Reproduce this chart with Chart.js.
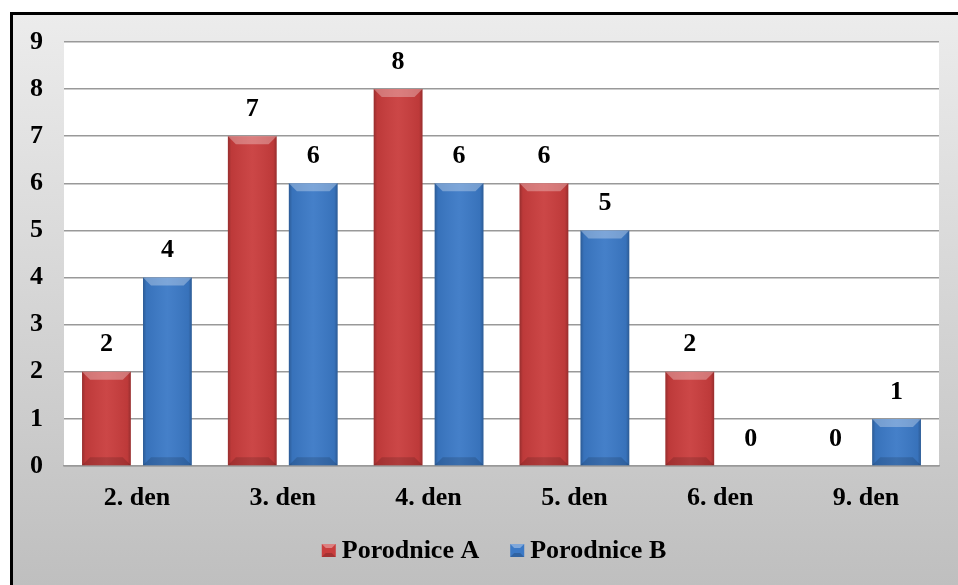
<!DOCTYPE html>
<html>
<head>
<meta charset="utf-8">
<script src="https://cdn.jsdelivr.net/npm/chart.js@4/dist/chart.umd.min.js"></script>
<style>
  html, body { margin: 0; padding: 0; background: #ffffff; }
  #wrap { width: 958px; height: 585px; }
</style>
</head>
<body>
<div id="wrap"><canvas id="c" width="958" height="585"></canvas></div>
<script>
// Days after birth and counts for the two maternity wards
const categories = ['2. den', '3. den', '4. den', '5. den', '6. den', '9. den'];
const seriesNames = ['Porodnice A', 'Porodnice B'];
const valuesA = [2, 7, 8, 6, 2, 0];
const valuesB = [4, 6, 6, 5, 0, 1];
const yTicks = [0, 1, 2, 3, 4, 5, 6, 7, 8, 9];

const FONT = "'Liberation Serif', 'Times New Roman', serif";
const RED = '#c93d3d';
const BLUE = '#3b79c6';

// Frame, grey gradient panel and white plot area
const backdrop = {
  id: 'backdrop',
  beforeDraw(chart) {
    const { ctx, width, height, chartArea } = chart;
    ctx.save();
    ctx.fillStyle = '#ffffff';
    ctx.fillRect(0, 0, width, height);
    const g = ctx.createLinearGradient(0, 14, 0, height);
    g.addColorStop(0, '#ececec');
    g.addColorStop(1, '#bfbfbf');
    ctx.fillStyle = g;
    ctx.fillRect(12, 14, width - 12, height - 14);
    ctx.fillStyle = '#000000';
    ctx.fillRect(10, 12, width - 10, 3);
    ctx.fillRect(10, 12, 3, height - 12);
    ctx.fillStyle = '#ffffff';
    ctx.fillRect(chartArea.left, chartArea.top, chartArea.right - chartArea.left, chartArea.bottom - chartArea.top);
    ctx.restore();
  }
};

// Bevel facets for a rectangle (bars and legend swatches)
function bevel(ctx, x0, x1, top, bottom, b, lit, shade) {
  ctx.beginPath();
  ctx.moveTo(x0, top);
  ctx.lineTo(x1, top);
  ctx.lineTo(x1 - b, top + b);
  ctx.lineTo(x0 + b, top + b);
  ctx.closePath();
  ctx.fillStyle = lit;
  ctx.fill();
  ctx.beginPath();
  ctx.moveTo(x0, bottom);
  ctx.lineTo(x1, bottom);
  ctx.lineTo(x1 - b, bottom - b);
  ctx.lineTo(x0 + b, bottom - b);
  ctx.closePath();
  ctx.fillStyle = shade;
  ctx.fill();
}

// Bevel shading over each bar, then the value above it
const barDecor = {
  id: 'barDecor',
  afterDatasetsDraw(chart) {
    const { ctx } = chart;
    ctx.save();
    chart.data.datasets.forEach((ds, di) => {
      const meta = chart.getDatasetMeta(di);
      meta.data.forEach((bar, i) => {
        const v = ds.data[i];
        const { x, y, base, width } = bar.getProps(['x', 'y', 'base', 'width'], true);
        const x0 = x - width / 2, x1 = x + width / 2;
        if (v > 0) {
          const h = base - y;
          const hg = ctx.createLinearGradient(x0, 0, x1, 0);
          hg.addColorStop(0, 'rgba(0,0,0,0.25)');
          hg.addColorStop(0.07, 'rgba(0,0,0,0.06)');
          hg.addColorStop(0.5, 'rgba(255,255,255,0.05)');
          hg.addColorStop(0.93, 'rgba(0,0,0,0.06)');
          hg.addColorStop(1, 'rgba(0,0,0,0.25)');
          ctx.fillStyle = hg;
          ctx.fillRect(x0, y, width, h);
          bevel(ctx, x0, x1, y, base, Math.min(8, h / 2), 'rgba(255,255,255,0.30)', 'rgba(0,0,0,0.14)');
        }
        ctx.fillStyle = '#000000';
        ctx.font = 'bold 26px ' + FONT;
        ctx.textAlign = 'center';
        ctx.textBaseline = 'middle';
        ctx.fillText(String(v), x, y - 27);
      });
    });
    ctx.restore();
  }
};

// Legend row under the category labels
const legendRow = {
  id: 'legendRow',
  afterDraw(chart) {
    const { ctx } = chart;
    const box = 14, gapText = 6, gapItem = 31, cx = 494, cy = 551;
    ctx.save();
    ctx.font = 'bold 26px ' + FONT;
    const items = chart.data.datasets.map(ds => ({ text: ds.label, color: ds.backgroundColor, w: ctx.measureText(ds.label).width }));
    const total = items.reduce((s, it) => s + box + gapText + it.w, 0) + gapItem * (items.length - 1);
    let x = cx - total / 2;
    items.forEach(it => {
      const top = cy - 7, bottom = cy + 6;
      ctx.fillStyle = it.color;
      ctx.fillRect(x, top, box, bottom - top);
      bevel(ctx, x, x + box, top, bottom, 4, 'rgba(255,255,255,0.35)', 'rgba(0,0,0,0.18)');
      ctx.fillStyle = '#000000';
      ctx.textAlign = 'left';
      ctx.textBaseline = 'middle';
      ctx.fillText(it.text, x + box + gapText, cy);
      x += box + gapText + it.w + gapItem;
    });
    ctx.restore();
  }
};

new Chart(document.getElementById('c'), {
  type: 'bar',
  data: {
    labels: categories,
    datasets: [
      { label: seriesNames[0], data: valuesA, backgroundColor: RED, borderWidth: 0 },
      { label: seriesNames[1], data: valuesB, backgroundColor: BLUE, borderWidth: 0 }
    ]
  },
  options: {
    responsive: false,
    devicePixelRatio: 1,
    animation: false,
    datasets: { bar: { categoryPercentage: 0.836, barPercentage: 0.8 } },
    layout: { padding: { left: 0, right: 19, top: 42, bottom: 56 } },
    plugins: {
      tooltip: { enabled: false },
      legend: { display: false }
    },
    scales: {
      x: {
        grid: { display: false, drawTicks: false },
        border: { display: true, color: '#999999', width: 1.5 },
        ticks: { color: '#000000', font: { family: FONT, size: 26, weight: 'bold' }, padding: 17 },
        afterFit(scale) { scale.height = 63; }
      },
      y: {
        min: 0,
        max: 9,
        afterBuildTicks(scale) { scale.ticks = yTicks.map(v => ({ value: v })); },
        grid: { color: '#999999', lineWidth: 1.5, drawTicks: false },
        border: { display: false },
        ticks: { color: '#000000', font: { family: FONT, size: 26, weight: 'bold' }, padding: 21 },
        afterFit(scale) { scale.width = 64; }
      }
    }
  },
  plugins: [backdrop, barDecor, legendRow]
});
</script>
</body>
</html>
